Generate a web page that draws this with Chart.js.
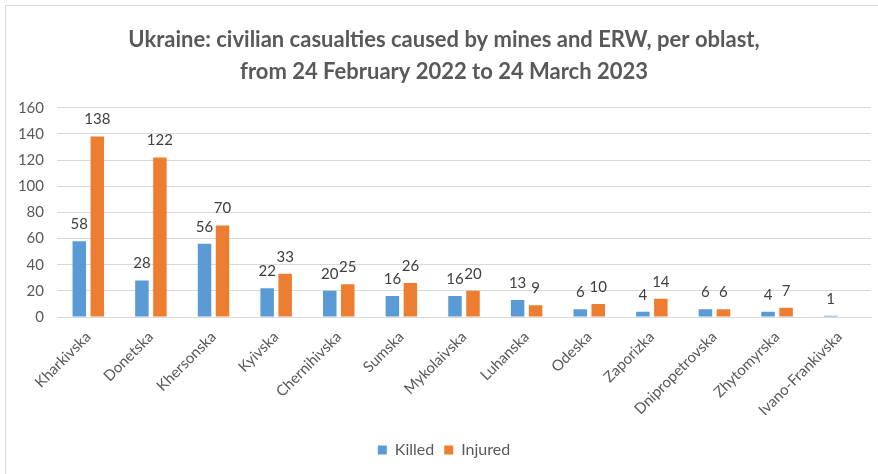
<!DOCTYPE html>
<html>
<head>
<meta charset="utf-8">
<script src="https://cdn.jsdelivr.net/npm/chart.js@4/dist/chart.umd.min.js"></script>
<style>
  html, body { margin: 0; padding: 0; background: #fff; }
  #wrap { width: 878px; height: 474px; position: relative; }
</style>
</head>
<body>
<div id="wrap"><canvas id="myChart" width="878" height="474"></canvas></div>
<script>
// chart values
var oblasts = ['Kharkivska', 'Donetska', 'Khersonska', 'Kyivska', 'Chernihivska', 'Sumska',
  'Mykolaivska', 'Luhanska', 'Odeska', 'Zaporizka', 'Dnipropetrovska', 'Zhytomyrska', 'Ivano-Frankivska'];
var killed = [58, 28, 56, 22, 20, 16, 16, 13, 6, 4, 6, 4, 1];
var injured = [138, 122, 70, 33, 25, 26, 20, 9, 10, 14, 6, 7, null];
var yTicks = [0, 20, 40, 60, 80, 100, 120, 140, 160];

var font = 'Lato, "Open Sans", sans-serif';

// value labels above each bar, like excel data labels
var barLabels = {
  id: 'barLabels',
  afterDatasetsDraw: function (chart) {
    var ctx = chart.ctx;
    ctx.save();
    ctx.font = '15px ' + font;
    ctx.fillStyle = '#404040';
    ctx.textAlign = 'center';
    ctx.textBaseline = 'middle';
    chart.data.datasets.forEach(function (ds, i) {
      chart.getDatasetMeta(i).data.forEach(function (bar, j) {
        if (ds.data[j] == null) return;
        ctx.fillText(ds.data[j], bar.x, bar.y - 17);
      });
    });
    ctx.restore();
  }
};

// thin frame round the chart
var frame = {
  id: 'frame',
  beforeDraw: function (chart) {
    var ctx = chart.ctx;
    ctx.save();
    ctx.strokeStyle = '#d9d9d9';
    ctx.lineWidth = 1;
    ctx.strokeRect(5.5, 5.5, 1000, 1000);
    ctx.restore();
  }
};

var ctx = document.getElementById('myChart').getContext('2d');

var myChart = new Chart(ctx, {
  type: 'bar',
  data: {
    labels: oblasts,
    datasets: [{
      label: 'Killed',
      data: killed,
      backgroundColor: '#5B9BD5',
      categoryPercentage: 0.575,
      barPercentage: 0.75
    }, {
      label: 'Injured',
      data: injured,
      backgroundColor: '#ED7D31',
      categoryPercentage: 0.575,
      barPercentage: 0.75
    }]
  },
  plugins: [frame, barLabels],
  options: {
    responsive: false,
    animation: false,
    layout: { padding: { left: 17, right: 7, top: 0, bottom: 6 } },
    plugins: {
      title: {
        display: true,
        text: ['Ukraine: civilian casualties caused by mines and ERW, per oblast,',
               'from 24 February 2022 to 24 March 2023'],
        color: '#595959',
        font: { family: font, size: 22, weight: 'bold', lineHeight: 1.45 },
        padding: { top: 24, bottom: 20 }
      },
      legend: {
        position: 'bottom',
        labels: {
          color: '#595959',
          font: { family: font, size: 16 },
          boxWidth: 9,
          boxHeight: 9,
          padding: 10
        }
      },
      tooltip: { enabled: false }
    },
    scales: {
      x: {
        grid: { display: false },
        border: { color: '#d9d9d9' },
        ticks: {
          color: '#595959',
          font: { family: font, size: 15 },
          minRotation: 45,
          maxRotation: 45,
          autoSkip: false
        },
        afterFit: function (scale) { scale.height = 115; }
      },
      y: {
        min: 0,
        max: 160,
        afterBuildTicks: function (scale) {
          scale.ticks = yTicks.map(function (v) { return { value: v }; });
        },
        grid: { color: '#d9d9d9', drawTicks: false },
        border: { display: false },
        ticks: {
          color: '#595959',
          font: { family: font, size: 15 },
          padding: 13
        },
        afterFit: function (scale) { scale.width = 40; }
      }
    }
  }
});
</script>
</body>
</html>
